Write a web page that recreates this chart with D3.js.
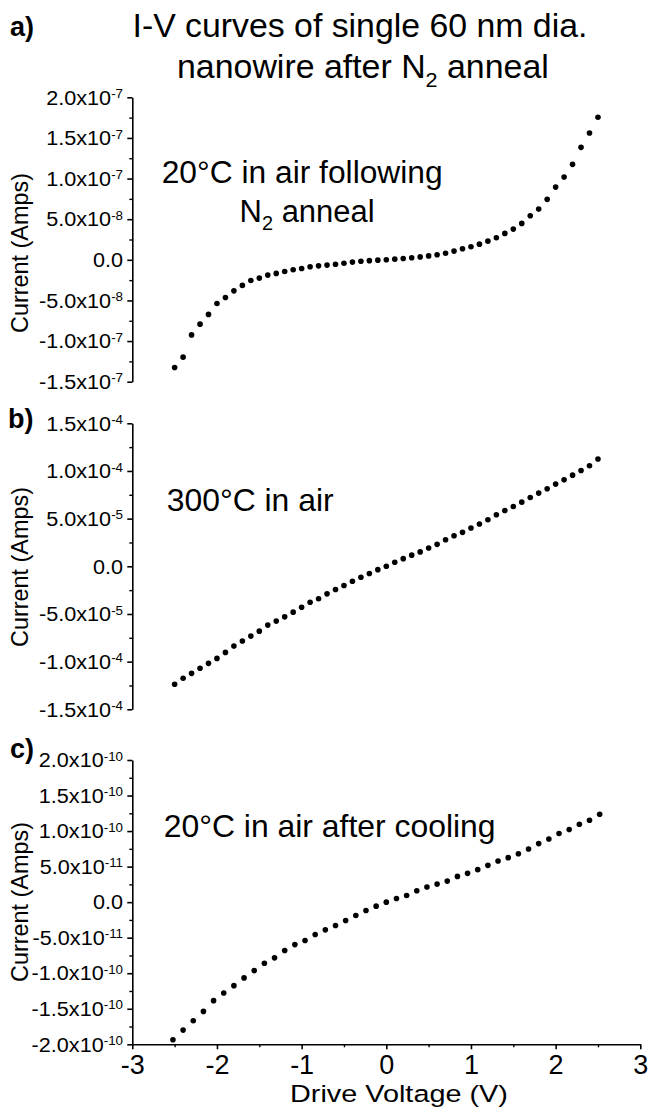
<!DOCTYPE html>
<html><head><meta charset="utf-8">
<script src="https://cdn.jsdelivr.net/npm/d3@7"></script>
<style>
body{margin:0;background:#fff}
svg{display:block}
text{font-family:"Liberation Sans",Arial,Helvetica,sans-serif;fill:#000}
</style>
</head><body>
<svg id="chart" width="650" height="1114"></svg>
<script>
// ---------- data ----------
const voltageAB = [-2.5,-2.4,-2.3,-2.2,-2.1,-2.0,-1.9,-1.8,-1.7,-1.6,-1.5,-1.4,-1.3,-1.2,-1.1,-1.0,-0.9,-0.8,-0.7,-0.6,-0.5,-0.4,-0.3,-0.2,-0.1,0,0.1,0.2,0.3,0.4,0.5,0.6,0.7,0.8,0.9,1.0,1.1,1.2,1.3,1.4,1.5,1.6,1.7,1.8,1.9,2.0,2.1,2.2,2.3,2.4,2.5];
const currentA = [-13.25e-8,-11.98e-8,-9.24e-8,-7.92e-8,-6.72e-8,-5.37e-8,-4.63e-8,-3.82e-8,-3.15e-8,-2.54e-8,-2.25e-8,-1.88e-8,-1.67e-8,-1.43e-8,-1.23e-8,-1.06e-8,-0.86e-8,-0.74e-8,-0.65e-8,-0.55e-8,-0.42e-8,-0.28e-8,-0.18e-8,-0.10e-8,-0.04e-8,0,0.08e-8,0.16e-8,0.26e-8,0.36e-8,0.48e-8,0.62e-8,0.80e-8,1.07e-8,1.36e-8,1.60e-8,1.93e-8,2.30e-8,2.71e-8,3.25e-8,3.78e-8,4.48e-8,5.42e-8,6.24e-8,7.44e-8,8.95e-8,10.18e-8,11.75e-8,13.84e-8,15.60e-8,17.54e-8];
const currentB = [-12.37e-5,-11.75e-5,-11.23e-5,-10.70e-5,-10.18e-5,-9.66e-5,-9.03e-5,-8.37e-5,-7.84e-5,-7.32e-5,-6.80e-5,-6.17e-5,-5.75e-5,-5.30e-5,-4.81e-5,-4.29e-5,-3.77e-5,-3.41e-5,-2.89e-5,-2.44e-5,-2.02e-5,-1.57e-5,-1.15e-5,-0.76e-5,-0.35e-5,0,0.42e-5,0.80e-5,1.17e-5,1.51e-5,1.92e-5,2.30e-5,2.79e-5,3.21e-5,3.56e-5,4.01e-5,4.43e-5,4.88e-5,5.41e-5,5.86e-5,6.28e-5,6.73e-5,7.22e-5,7.68e-5,8.13e-5,8.62e-5,9.07e-5,9.56e-5,10.05e-5,10.55e-5,11.25e-5];
const voltageC = [-2.52,-2.40,-2.28,-2.16,-2.04,-1.92,-1.80,-1.68,-1.56,-1.44,-1.32,-1.20,-1.08,-0.96,-0.84,-0.72,-0.60,-0.48,-0.36,-0.24,-0.12,0,0.12,0.24,0.36,0.48,0.60,0.72,0.84,0.96,1.08,1.20,1.32,1.44,1.56,1.68,1.80,1.92,2.04,2.16,2.28,2.40,2.52];
const currentC = [-19.37e-11,-18.0e-11,-16.69e-11,-15.37e-11,-13.86e-11,-12.78e-11,-11.75e-11,-10.66e-11,-9.63e-11,-8.60e-11,-7.84e-11,-6.81e-11,-5.97e-11,-5.40e-11,-4.56e-11,-3.90e-11,-3.29e-11,-2.58e-11,-1.88e-11,-1.17e-11,-0.56e-11,0,0.52e-11,0.94e-11,1.61e-11,2.12e-11,2.54e-11,2.96e-11,3.62e-11,4.05e-11,4.57e-11,5.18e-11,5.78e-11,6.26e-11,6.82e-11,7.48e-11,8.24e-11,8.89e-11,9.65e-11,10.21e-11,10.96e-11,11.52e-11,12.37e-11];

const xTicks = [-3,-2,-1,0,1,2,3];
const xMinorTicks = [-2.5,-1.5,-0.5,0.5,1.5,2.5];
const xTickLabels = ["-3","-2","-1","0","1","2","3"];

const yTicksA = [-1.5e-7,-1.0e-7,-5e-8,0,5e-8,1.0e-7,1.5e-7,2.0e-7];
const yTickLabelsA = ["-1.5x10^-7","-1.0x10^-7","-5.0x10^-8","0.0","5.0x10^-8","1.0x10^-7","1.5x10^-7","2.0x10^-7"];
const yMinorA = [-1.25e-7,-7.5e-8,-2.5e-8,2.5e-8,7.5e-8,1.25e-7,1.75e-7];

const yTicksB = [-1.5e-4,-1.0e-4,-5e-5,0,5e-5,1.0e-4,1.5e-4];
const yTickLabelsB = ["-1.5x10^-4","-1.0x10^-4","-5.0x10^-5","0.0","5.0x10^-5","1.0x10^-4","1.5x10^-4"];
const yMinorB = [-1.25e-4,-7.5e-5,-2.5e-5,2.5e-5,7.5e-5,1.25e-4];

const yTicksC = [-2.0e-10,-1.5e-10,-1.0e-10,-5e-11,0,5e-11,1.0e-10,1.5e-10,2.0e-10];
const yTickLabelsC = ["-2.0x10^-10","-1.5x10^-10","-1.0x10^-10","-5.0x10^-11","0.0","5.0x10^-11","1.0x10^-10","1.5x10^-10","2.0x10^-10"];
const yMinorC = [-1.75e-10,-1.25e-10,-7.5e-11,-2.5e-11,2.5e-11,7.5e-11,1.25e-10,1.75e-10];

// ---------- layout ----------
const svg = d3.select("#chart");
const X0 = 132.3, X1 = 640.3;
const x = d3.scaleLinear().domain([-3,3]).range([X0, X1]);

function fitWidth(sel, w){
  const bb = sel.node().getBBox();
  const k = w / bb.width, x0 = bb.x;
  sel.attr("transform", `translate(${x0},0) scale(${k},1) translate(${-x0},0)`);
}

const panels = [
  {V: voltageAB, I: currentA, dom:[-1.5e-7,2.0e-7], rng:[381.7,97.3], ticks:yTicksA, labels:yTickLabelsA, minor:yMinorA, ylabC:253},
  {V: voltageAB, I: currentB, dom:[-1.5e-4,1.5e-4], rng:[709.3,423.3], ticks:yTicksB, labels:yTickLabelsB, minor:yMinorB, ylabC:567},
  {V: voltageC, I: currentC, dom:[-2.0e-10,2.0e-10], rng:[1044.3,760], ticks:yTicksC, labels:yTickLabelsC, minor:yMinorC, ylabC:902}
];

panels.forEach((p, pi) => {
  const y = d3.scaleLinear().domain(p.dom).range(p.rng);
  const g = svg.append("g");
  // minor ticks
  g.append("g").attr("transform", `translate(${X0},0)`)
    .call(d3.axisLeft(y).tickValues(p.minor).tickSize(3).tickFormat(""))
    .call(a => a.select(".domain").remove())
    .call(a => a.selectAll("line").attr("stroke","#000").attr("stroke-width",1.4));
  // major
  const ax = g.append("g").attr("transform", `translate(${X0},0)`)
    .call(d3.axisLeft(y).tickValues(p.ticks).tickSize(5).tickSizeOuter(0).tickPadding(4).tickFormat(""));
  ax.select(".domain").attr("stroke","#000").attr("stroke-width",1.6);
  ax.selectAll("line").attr("stroke","#000").attr("stroke-width",1.6);
  ax.selectAll(".tick text").each(function(d,i){
    const t = d3.select(this);
    const lab = p.labels[i];
    const parts = lab.split("^");
    t.text(null).attr("font-size",21).attr("fill","#000");
    t.append("tspan").text(parts[0]);
    if(parts[1]) t.append("tspan").attr("font-size",13).attr("dy","-0.5em").text(parts[1]);
    t.attr("transform","scale(1.03,1)");
  });
  // y label
  g.append("text").attr("transform",`translate(28,${p.ylabC}) rotate(-90)`)
    .attr("text-anchor","middle").attr("font-size",23.4).text("Current (Amps)");
  // points
  g.append("g").selectAll("circle").data(p.V.map((v,i)=>[v,p.I[i]])).join("circle")
    .attr("cx", d=>x(d[0])).attr("cy", d=>y(d[1])).attr("r",2.8).attr("fill","#000");
  if(pi===2){
    const xa = g.append("g").attr("transform",`translate(0,${p.rng[0]})`);
    xa.append("g").call(d3.axisBottom(x).tickValues(xMinorTicks).tickSize(3).tickFormat(""))
      .call(a=>a.select(".domain").remove())
      .call(a=>a.selectAll("line").attr("stroke","#000").attr("stroke-width",1.4));
    const xm = xa.append("g").call(d3.axisBottom(x).tickValues(xTicks).tickSize(5).tickSizeOuter(0).tickPadding(6)
      .tickFormat((d,i)=>xTickLabels[i]));
    xm.select(".domain").attr("stroke","#000").attr("stroke-width",1.6);
    xm.selectAll("line").attr("stroke","#000").attr("stroke-width",1.6);
    xm.selectAll("text").attr("font-size",27).attr("fill","#000");
  }
});

// x axis title
fitWidth(svg.append("text").attr("x",290).attr("y",1102).attr("font-size",24.5).text("Drive Voltage (V)"), 218);

// panel letters
svg.append("text").attr("x",10).attr("y",36).attr("font-size",27).attr("font-weight","bold").text("a)");
svg.append("text").attr("x",8).attr("y",428).attr("font-size",27).attr("font-weight","bold").text("b)");
svg.append("text").attr("x",10).attr("y",758).attr("font-size",27).attr("font-weight","bold").text("c)");

// title
fitWidth(svg.append("text").attr("x",132.5).attr("y",37).attr("font-size",33).text("I-V curves of single 60 nm dia."), 455);
const t2 = svg.append("text").attr("x",177).attr("y",78).attr("font-size",33);
t2.append("tspan").text("nanowire after N");
t2.append("tspan").attr("font-size",21).attr("dy",9).text("2");
t2.append("tspan").attr("dy",-9).text(" anneal");
fitWidth(t2, 372);

// annotations
fitWidth(svg.append("text").attr("x",161.7).attr("y",183).attr("font-size",31).text("20°C in air following"), 281);
const na = svg.append("text").attr("x",239.6).attr("y",222).attr("font-size",31);
na.append("tspan").text("N");
na.append("tspan").attr("font-size",20).attr("dy",8).text("2");
na.append("tspan").attr("dy",-8).text(" anneal");
fitWidth(na, 135);
fitWidth(svg.append("text").attr("x",166.7).attr("y",511).attr("font-size",31).text("300°C in air"), 167);
fitWidth(svg.append("text").attr("x",163.75).attr("y",837).attr("font-size",31).text("20°C in air after cooling"), 332);
</script>
</body></html>
